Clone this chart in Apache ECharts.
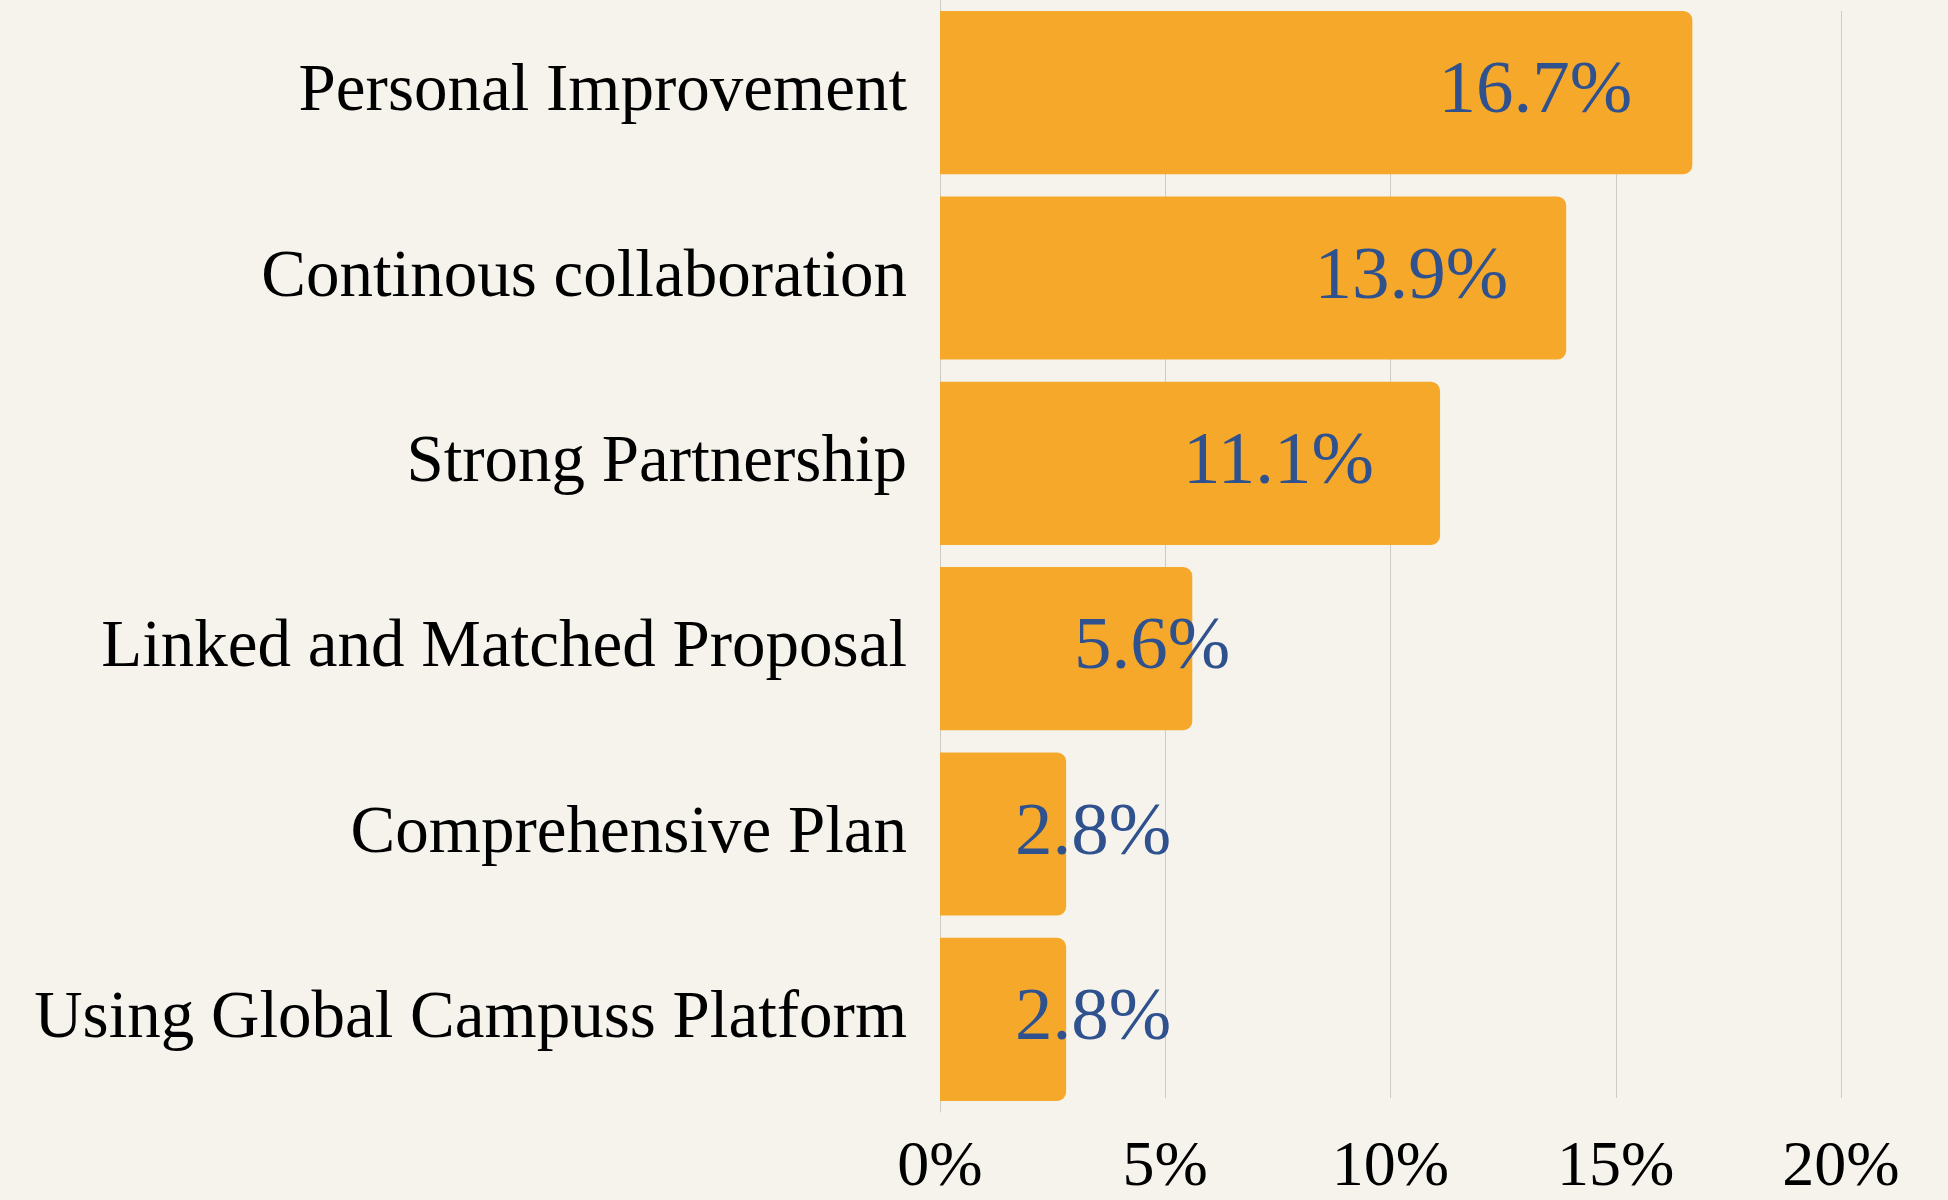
<!DOCTYPE html>
<html>
<head>
  <meta charset="utf-8">
  <title>Bar chart</title>
  <script src="https://cdn.jsdelivr.net/npm/echarts@6/dist/echarts.min.js"></script>
  <style type="text/css">
    html, body { margin: 0; padding: 0; background: #f6f3ec; }
    #chart { width: 1948px; height: 1200px; }
  </style>
</head>
<body>
  <div id="chart"></div>
  <script>
    // data
    var categories = ['Personal Improvement', 'Continous collaboration', 'Strong Partnership',
                      'Linked and Matched Proposal', 'Comprehensive Plan', 'Using Global Campuss Platform'];
    var values = [16.7, 13.9, 11.1, 5.6, 2.8, 2.8];
    var tickValues = [0, 5, 10, 15, 20];

    // where each value label sits (style only)
    var labelPlace = [
      { position: 'insideRight', distance: 60 },
      { position: 'insideRight', distance: 58 },
      { position: 'insideRight', distance: 66 },
      { position: 'insideLeft', distance: 134 },
      { position: 'insideLeft', distance: 75 },
      { position: 'insideLeft', distance: 75 }
    ];

    var serif = '"Liberation Serif", "Times New Roman", serif';

    var barData = values.map(function (v, i) {
      return { value: v, label: labelPlace[i] };
    });

    var myChart = echarts.init(document.getElementById('chart'));
    var option = {
      backgroundColor: '#f6f3ec',
      animation: false,
      grid: [
        // bars
        { left: 940, right: 107, top: 0, bottom: 88 },
        // gridlines + percent ticks
        { left: 940, right: 107, top: 11, bottom: 99 }
      ],
      xAxis: [
        {
          gridIndex: 0, type: 'value', min: 0, max: tickValues[tickValues.length - 1], interval: 5,
          axisLine: { show: false }, axisTick: { show: false },
          axisLabel: { show: false }, splitLine: { show: false }
        },
        {
          gridIndex: 1, type: 'value', min: tickValues[0], max: tickValues[tickValues.length - 1], interval: 5,
          axisLine: { show: false }, axisTick: { show: false },
          axisLabel: {
            formatter: '{value}%', color: '#000', fontFamily: serif, fontSize: 64, margin: 38
          },
          splitLine: { lineStyle: { color: '#cfcac2', width: 1 } }
        }
      ],
      yAxis: [
        {
          gridIndex: 0, type: 'category', inverse: true, data: categories,
          axisLine: { show: true, lineStyle: { color: '#cfcac2' } },
          axisTick: { show: false },
          axisLabel: {
            color: '#000', fontFamily: serif, fontSize: 67, margin: 33,
            padding: [12, 0, 0, 0]
          }
        },
        {
          gridIndex: 1, type: 'value', show: false, min: 0, max: 1
        }
      ],
      series: [{
        type: 'bar',
        xAxisIndex: 0,
        yAxisIndex: 0,
        data: barData,
        barCategoryGap: '12%',
        itemStyle: { color: '#f5a82a', borderRadius: [0, 9, 9, 0] },
        label: {
          show: true,
          formatter: function (p) { return p.value.toFixed(1) + '%'; },
          color: '#2f528f',
          fontFamily: serif,
          fontSize: 75
        },
        z: 3
      }]
    };
    myChart.setOption(option);
  </script>
</body>
</html>
